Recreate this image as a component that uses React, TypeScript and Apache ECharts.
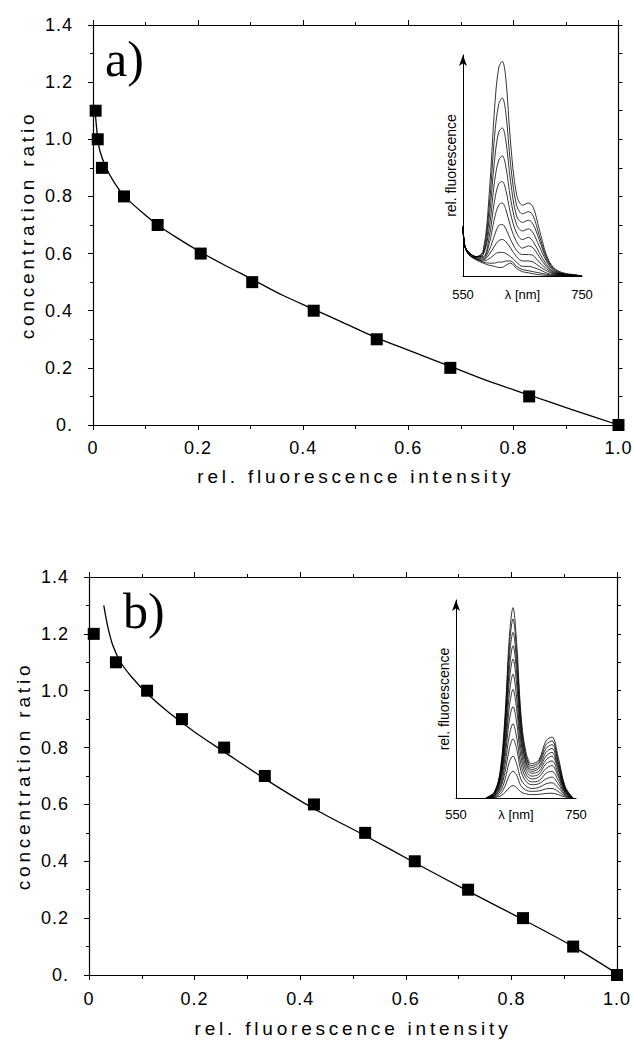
import React, { useEffect, useRef } from "react";
import * as echarts from "echarts";

// ---------- tick labels & titles ----------
const X_TICK_LABELS = ["0", "0.2", "0.4", "0.6", "0.8", "1.0"];
const Y_TICK_LABELS = ["0.", "0.2", "0.4", "0.6", "0.8", "1.0", "1.2", "1.4"];
const X_TITLE = "rel. fluorescence intensity";
const Y_TITLE = "concentration ratio";
const INSET_Y_TITLE = "rel. fluorescence";
const INSET_MID_LABEL = "λ [nm]";

// ---------- panel a) data ----------
const A_POINTS_X = [0.005, 0.009, 0.017, 0.059, 0.123, 0.205, 0.303, 0.42, 0.54, 0.68, 0.83, 1.0];
const A_POINTS_Y = [1.1, 1.0, 0.9, 0.8, 0.7, 0.6, 0.5, 0.4, 0.3, 0.2, 0.1, 0.0];
const A_FIT_X = [0.004, 0.008, 0.013, 0.025, 0.04, 0.06, 0.09, 0.123, 0.16, 0.205, 0.25, 0.303, 0.36, 0.42, 0.48, 0.54, 0.61, 0.68, 0.75, 0.83, 0.91, 1.0];
const A_FIT_Y = [1.1, 1.02, 0.96, 0.9, 0.85, 0.8, 0.75, 0.7, 0.655, 0.605, 0.56, 0.51, 0.455, 0.405, 0.355, 0.305, 0.255, 0.205, 0.155, 0.105, 0.055, 0.0];

// ---------- panel b) data ----------
const B_POINTS_X = [0.009, 0.051, 0.11, 0.176, 0.256, 0.333, 0.426, 0.523, 0.617, 0.718, 0.822, 0.917, 1.0];
const B_POINTS_Y = [1.2, 1.1, 1.0, 0.9, 0.8, 0.7, 0.6, 0.5, 0.4, 0.3, 0.2, 0.1, 0.0];
const B_FIT_X = [0.028, 0.035, 0.045, 0.06, 0.08, 0.11, 0.15, 0.2, 0.256, 0.333, 0.426, 0.523, 0.617, 0.718, 0.822, 0.917, 1.0];
const B_FIT_Y = [1.3, 1.23, 1.16, 1.1, 1.05, 0.99, 0.925, 0.855, 0.785, 0.69, 0.585, 0.49, 0.395, 0.295, 0.195, 0.1, 0.005];

// ---------- inset a) spectra ----------
const INSET_A_WAVELENGTHS = [550, 553, 560, 572, 584, 594, 603, 610, 616, 622, 630, 640, 650, 660, 668, 678, 690, 702, 718, 740, 750];
const INSET_A_CURVES = [
  [0.23, 0.14, 0.11, 0.09, 0.12, 0.38, 0.78, 0.97, 1.0, 0.92, 0.62, 0.38, 0.33, 0.34, 0.32, 0.22, 0.1, 0.04, 0.015, 0.005, 0],
  [0.23, 0.14, 0.11, 0.09, 0.11, 0.32, 0.65, 0.8, 0.83, 0.76, 0.52, 0.33, 0.29, 0.3, 0.28, 0.19, 0.09, 0.035, 0.012, 0.004, 0],
  [0.23, 0.14, 0.11, 0.09, 0.1, 0.27, 0.54, 0.67, 0.69, 0.63, 0.44, 0.28, 0.25, 0.26, 0.24, 0.17, 0.08, 0.03, 0.01, 0.003, 0],
  [0.23, 0.14, 0.11, 0.09, 0.1, 0.22, 0.44, 0.54, 0.56, 0.51, 0.36, 0.24, 0.21, 0.22, 0.2, 0.14, 0.07, 0.025, 0.009, 0.003, 0],
  [0.23, 0.14, 0.11, 0.09, 0.09, 0.18, 0.35, 0.43, 0.44, 0.4, 0.29, 0.2, 0.17, 0.18, 0.16, 0.11, 0.055, 0.02, 0.008, 0.002, 0],
  [0.23, 0.14, 0.11, 0.085, 0.085, 0.15, 0.27, 0.33, 0.34, 0.31, 0.23, 0.16, 0.13, 0.14, 0.13, 0.09, 0.045, 0.017, 0.007, 0.002, 0],
  [0.23, 0.14, 0.1, 0.085, 0.08, 0.12, 0.19, 0.235, 0.24, 0.22, 0.17, 0.12, 0.1, 0.1, 0.095, 0.065, 0.035, 0.013, 0.006, 0.002, 0],
  [0.23, 0.14, 0.1, 0.08, 0.075, 0.1, 0.14, 0.165, 0.17, 0.16, 0.13, 0.09, 0.07, 0.07, 0.065, 0.045, 0.025, 0.01, 0.005, 0.002, 0],
  [0.23, 0.14, 0.1, 0.08, 0.07, 0.08, 0.1, 0.11, 0.11, 0.105, 0.09, 0.065, 0.045, 0.045, 0.04, 0.03, 0.015, 0.006, 0.004, 0.001, 0],
  [0.23, 0.14, 0.1, 0.08, 0.065, 0.06, 0.06, 0.065, 0.065, 0.07, 0.07, 0.045, 0.03, 0.025, 0.02, 0.015, 0.008, 0.003, 0.002, 0.001, 0],
  [0.23, 0.14, 0.1, 0.075, 0.06, 0.05, 0.045, 0.04, 0.04, 0.05, 0.06, 0.035, 0.02, 0.015, 0.01, 0.006, 0.003, 0.001, 0.001, 0, 0],
];

// ---------- inset b) spectra ----------
const INSET_B_WAVELENGTHS = [600, 614, 624, 632, 639, 645, 651, 658, 666, 676, 688, 700, 710, 720, 732, 745];
const INSET_B_CURVES = [
  [0, 0.03, 0.15, 0.45, 0.85, 1.0, 0.82, 0.45, 0.25, 0.18, 0.2, 0.3, 0.32, 0.22, 0.06, 0],
  [0, 0.03, 0.14, 0.42, 0.8, 0.94, 0.77, 0.42, 0.23, 0.17, 0.19, 0.28, 0.3, 0.2, 0.055, 0],
  [0, 0.03, 0.13, 0.39, 0.74, 0.87, 0.71, 0.39, 0.22, 0.16, 0.18, 0.26, 0.28, 0.19, 0.05, 0],
  [0, 0.025, 0.12, 0.36, 0.68, 0.8, 0.66, 0.36, 0.2, 0.15, 0.165, 0.24, 0.26, 0.175, 0.045, 0],
  [0, 0.025, 0.11, 0.33, 0.62, 0.73, 0.6, 0.33, 0.19, 0.14, 0.155, 0.22, 0.24, 0.16, 0.042, 0],
  [0, 0.02, 0.1, 0.29, 0.55, 0.65, 0.53, 0.3, 0.17, 0.13, 0.14, 0.2, 0.22, 0.15, 0.038, 0],
  [0, 0.02, 0.09, 0.26, 0.48, 0.57, 0.47, 0.26, 0.15, 0.115, 0.125, 0.18, 0.195, 0.13, 0.034, 0],
  [0, 0.015, 0.075, 0.22, 0.41, 0.48, 0.4, 0.22, 0.13, 0.1, 0.11, 0.155, 0.17, 0.115, 0.03, 0],
  [0, 0.012, 0.06, 0.18, 0.33, 0.39, 0.32, 0.18, 0.11, 0.085, 0.09, 0.13, 0.14, 0.095, 0.025, 0],
  [0, 0.01, 0.05, 0.14, 0.26, 0.31, 0.26, 0.145, 0.09, 0.07, 0.075, 0.1, 0.11, 0.075, 0.02, 0],
  [0, 0.008, 0.035, 0.1, 0.19, 0.22, 0.18, 0.1, 0.065, 0.05, 0.055, 0.075, 0.08, 0.055, 0.015, 0],
  [0, 0.005, 0.022, 0.065, 0.12, 0.14, 0.12, 0.065, 0.042, 0.035, 0.037, 0.048, 0.05, 0.035, 0.01, 0],
  [0, 0.003, 0.01, 0.03, 0.055, 0.065, 0.055, 0.032, 0.022, 0.018, 0.019, 0.024, 0.025, 0.018, 0.005, 0],
];

const FONT = "'Liberation Sans', Arial, Helvetica, sans-serif";
const SERIF = "'Liberation Serif', 'Times New Roman', serif";
const BLACK = "#000";

const zip = (xs: number[], ys: number[]) => xs.map((x, i) => [x, ys[i]]);
const fmtX = (v: number) => X_TICK_LABELS[Math.round(v / 0.2)] ?? "";
const fmtY = (v: number) => Y_TICK_LABELS[Math.round(v / 0.2)] ?? "";

function mainX(grid: number, nameGap: number, margin: number) {
  return [
    {
      type: "value", gridIndex: grid, position: "bottom", min: 0, max: 1, interval: 0.2,
      name: X_TITLE, nameLocation: "middle", nameGap,
      nameTextStyle: { fontFamily: FONT, fontSize: 19, color: BLACK },
      axisLine: { show: true, onZero: false, lineStyle: { color: BLACK, width: 1.2 } },
      axisTick: { show: true, inside: false, length: 5, lineStyle: { color: BLACK, width: 1 } },
      minorTick: { show: true, splitNumber: 2, length: 4, lineStyle: { color: BLACK, width: 1 } },
      axisLabel: { show: true, margin, formatter: fmtX, fontFamily: FONT, fontSize: 18, color: BLACK },
      splitLine: { show: false },
    },
    {
      type: "value", gridIndex: grid, position: "top", min: 0, max: 1, interval: 0.2,
      axisLine: { show: true, onZero: false, lineStyle: { color: BLACK, width: 1.2 } },
      axisTick: { show: true, inside: false, length: 5, lineStyle: { color: BLACK, width: 1 } },
      minorTick: { show: true, splitNumber: 2, length: 3, lineStyle: { color: BLACK, width: 1 } },
      axisLabel: { show: false },
      splitLine: { show: false },
    },
  ];
}

function mainY(grid: number, nameGap: number) {
  return [
    {
      type: "value", gridIndex: grid, position: "left", min: 0, max: 1.4, interval: 0.2,
      name: Y_TITLE, nameLocation: "middle", nameGap,
      nameTextStyle: { fontFamily: FONT, fontSize: 19, color: BLACK },
      axisLine: { show: true, onZero: false, lineStyle: { color: BLACK, width: 1.2 } },
      axisTick: { show: true, inside: false, length: 5, lineStyle: { color: BLACK, width: 1 } },
      minorTick: { show: true, splitNumber: 2, length: 3, lineStyle: { color: BLACK, width: 1 } },
      axisLabel: { show: true, margin: 20, formatter: fmtY, fontFamily: FONT, fontSize: 18, color: BLACK },
      splitLine: { show: false },
    },
    {
      type: "value", gridIndex: grid, position: "right", min: 0, max: 1.4, interval: 0.2,
      axisLine: { show: true, onZero: false, lineStyle: { color: BLACK, width: 1.2 } },
      axisTick: { show: true, inside: false, length: 4, lineStyle: { color: BLACK, width: 1 } },
      minorTick: { show: true, splitNumber: 2, length: 4, lineStyle: { color: BLACK, width: 1 } },
      axisLabel: { show: false },
      splitLine: { show: false },
    },
  ];
}

function insetX(grid: number, margin: number) {
  return {
    type: "value", gridIndex: grid, min: 550, max: 750, interval: 100,
    axisLine: { show: true, onZero: false, lineStyle: { color: BLACK, width: 1 } },
    axisTick: { show: false },
    axisLabel: {
      show: true, margin, fontFamily: FONT, fontSize: 13, color: BLACK,
      formatter: (v: number) => (v === 650 ? INSET_MID_LABEL : String(v)),
    },
    splitLine: { show: false },
  };
}

function insetY(grid: number, max: number) {
  return {
    type: "value", gridIndex: grid, min: 0, max,
    name: INSET_Y_TITLE, nameLocation: "middle", nameGap: 5,
    nameTextStyle: { fontFamily: FONT, fontSize: 14, color: BLACK },
    axisLine: {
      show: true, onZero: false, symbol: ["none", "arrow"], symbolSize: [6, 11],
      lineStyle: { color: BLACK, width: 1 },
    },
    axisTick: { show: false },
    axisLabel: { show: false },
    splitLine: { show: false },
  };
}

function spectra(wl: number[], curves: number[][], xi: number, yi: number) {
  return curves.map((c) => ({
    type: "line", xAxisIndex: xi, yAxisIndex: yi, data: zip(wl, c),
    showSymbol: false, smooth: 0.35, silent: true,
    lineStyle: { color: BLACK, width: 0.8 },
  }));
}

export default function App() {
  const ref = useRef<HTMLDivElement>(null);
  useEffect(() => {
    const el = ref.current;
    if (!el) return;
    const chart = echarts.init(el, undefined, { renderer: "svg" });
    const option: any = {
      animation: false,
      backgroundColor: "#fff",
      grid: [
        { left: 93, top: 25, width: 528, height: 400 },
        { left: 463, top: 55, width: 119, height: 221 },
        { left: 89, top: 577, width: 528, height: 398 },
        { left: 456, top: 600, width: 120, height: 198 },
      ],
      xAxis: [
        ...mainX(0, 42, 14),
        insetX(1, 12),
        ...mainX(2, 44, 15),
        insetX(3, 10),
      ],
      yAxis: [
        ...mainY(0, 50),
        insetY(1, 1.03),
        ...mainY(2, 50),
        insetY(3, 1.04),
      ],
      series: [
        {
          type: "line", xAxisIndex: 0, yAxisIndex: 0, data: zip(A_FIT_X, A_FIT_Y),
          showSymbol: false, smooth: 0.3, lineStyle: { color: BLACK, width: 1.3 }, z: 2,
        },
        {
          type: "scatter", xAxisIndex: 0, yAxisIndex: 0, data: zip(A_POINTS_X, A_POINTS_Y),
          symbol: "rect", symbolSize: 12, itemStyle: { color: BLACK, opacity: 1 }, z: 3,
        },
        ...spectra(INSET_A_WAVELENGTHS, INSET_A_CURVES, 2, 2),
        {
          type: "line", xAxisIndex: 3, yAxisIndex: 3, data: zip(B_FIT_X, B_FIT_Y),
          showSymbol: false, smooth: 0.3, lineStyle: { color: BLACK, width: 1.3 }, z: 2,
        },
        {
          type: "scatter", xAxisIndex: 3, yAxisIndex: 3, data: zip(B_POINTS_X, B_POINTS_Y),
          symbol: "rect", symbolSize: 12, itemStyle: { color: BLACK, opacity: 1 }, z: 3,
        },
        ...spectra(INSET_B_WAVELENGTHS, INSET_B_CURVES, 5, 5),
      ],
      graphic: [
        { type: "text", left: 105, top: 34, style: { text: "a)", font: `50px ${SERIF}`, fill: BLACK } },
        { type: "text", left: 123, top: 586, style: { text: "b)", font: `50px ${SERIF}`, fill: BLACK } },
      ],
    };
    chart.setOption(option);
    const spacing = () => {
      el.querySelectorAll("text").forEach((t) => {
        const s = (t.textContent || "").trim();
        if (s === X_TITLE || s === Y_TITLE) (t as any).style.letterSpacing = "3.8px";
        else if (X_TICK_LABELS.includes(s) || Y_TICK_LABELS.includes(s)) (t as any).style.letterSpacing = "1px";
      });
    };
    spacing();
    chart.on("finished", spacing);
    const timer = setTimeout(spacing, 50);
    return () => {
      clearTimeout(timer);
      chart.dispose();
    };
  }, []);
  return (
    <div
      ref={ref}
      style={{ position: "fixed", left: 0, top: 0, width: 634, height: 1057, background: "#fff" }}
    />
  );
}
